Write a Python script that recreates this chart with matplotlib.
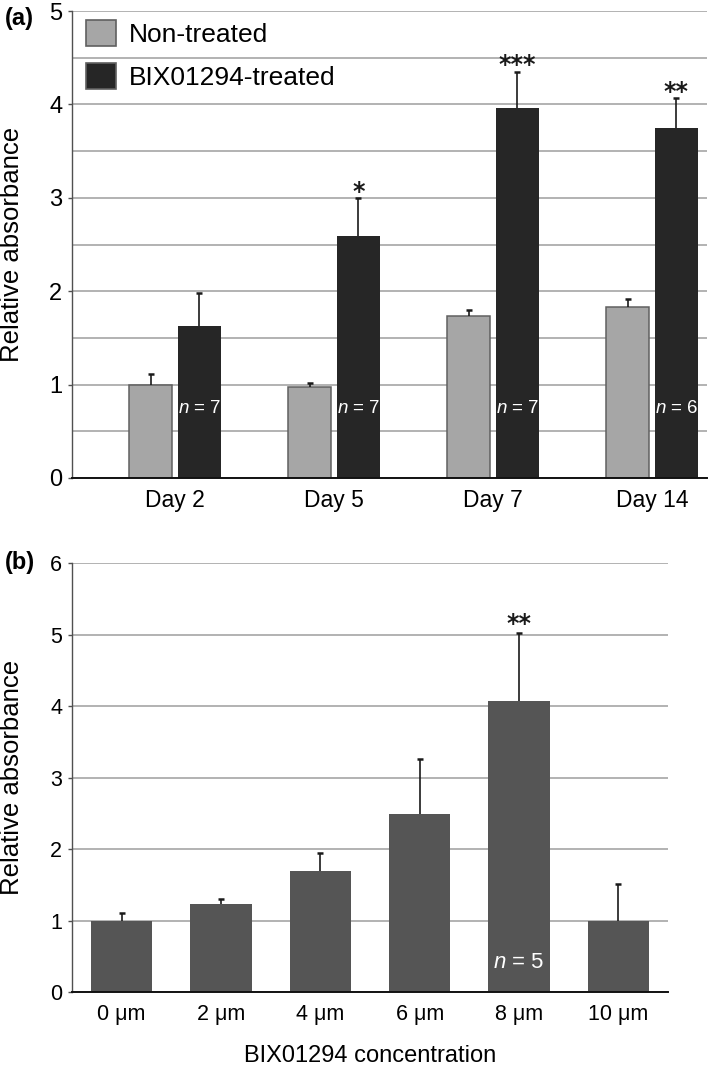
import numpy as np
import matplotlib
matplotlib.use("Agg")
import matplotlib.pyplot as plt
from matplotlib.patches import Patch

# ---------------- data ----------------
days = ["Day 2", "Day 5", "Day 7", "Day 14"]
non_treated = [1.00, 0.97, 1.73, 1.83]
non_treated_err = [0.11, 0.05, 0.065, 0.09]
treated = [1.63, 2.59, 3.96, 3.75]
treated_err = [0.35, 0.41, 0.39, 0.32]
treated_sig = ["", "*", "***", "**"]
treated_n = ["7", "7", "7", "6"]

conc_labels = ["0 μm", "2 μm", "4 μm", "6 μm", "8 μm", "10 μm"]
conc_values = [1.00, 1.23, 1.70, 2.50, 4.07, 1.00]
conc_err = [0.11, 0.075, 0.25, 0.76, 0.95, 0.52]
conc_sig = ["", "", "", "", "**", ""]
conc_n = ["", "", "", "", "5", ""]

# ---------------- style ----------------
plt.rcParams["font.family"] = ["Liberation Sans", "DejaVu Sans"]
plt.rcParams["mathtext.fontset"] = "custom"
plt.rcParams["mathtext.rm"] = "Liberation Sans"
plt.rcParams["mathtext.it"] = "Liberation Sans:italic"

GRID = "#a6a6a6"
AXC = "#505050"

fig = plt.figure(figsize=(7.09, 10.68), dpi=100)
W, H = 709.0, 1068.0
axA = fig.add_axes([72 / W, 1 - 478 / H, 635 / W, 467 / H])
axB = fig.add_axes([72 / W, 1 - 992.3 / H, 596 / W, 429 / H])


def style_axes(ax, ymax, minor_step=None):
    ax.set_ylim(0, ymax)
    ax.set_yticks(np.arange(0, ymax + 0.01, 1))
    if minor_step:
        ax.set_yticks(np.arange(minor_step, ymax, 1.0), minor=True)
    ax.set_axisbelow(True)
    ax.yaxis.grid(True, which="both", color=GRID, linewidth=1.2)
    ax.tick_params(axis="y", which="minor", length=0)
    for s in ["top", "right"]:
        ax.spines[s].set_visible(False)
    ax.spines["left"].set_color(AXC)
    ax.spines["left"].set_linewidth(1.0)
    ax.spines["bottom"].set_color("#111111")
    ax.spines["bottom"].set_linewidth(1.4)
    ax.tick_params(axis="y", which="major", length=3, width=1.0, color=AXC, pad=4)
    ax.tick_params(axis="x", length=0)


def upper_errorbar(ax, xs, ys, errs):
    cont = ax.errorbar(xs, ys, yerr=[np.zeros(len(xs)), errs], fmt="none",
                       ecolor="#1a1a1a", elinewidth=1.2, capsize=2.2, capthick=1.8, zorder=3)
    caps = cont.lines[1]
    if len(caps) == 2:
        caps[0].set_visible(False)


# ---------------- panel (a) ----------------
x = np.arange(len(days))
w = 0.272
off = 0.153
axA.bar(x - off, non_treated, w, color="#a6a6a6", edgecolor="#606060", linewidth=1.1, zorder=2)
axA.bar(x + off, treated, w, color="#262626", linewidth=0, zorder=2)
upper_errorbar(axA, x - off, non_treated, non_treated_err)
upper_errorbar(axA, x + off, treated, treated_err)
for i, s in enumerate(treated_sig):
    if s:
        axA.annotate(s, (x[i] + off, treated[i] + treated_err[i]), xytext=(0, 4.5),
                     textcoords="offset points", ha="center", va="center",
                     fontsize=17, family="DejaVu Sans", fontweight="bold", color="#1a1a1a")
for i, nn in enumerate(treated_n):
    axA.text(x[i] + off, 0.74, "$n$ = " + nn, ha="center", va="center", color="white",
             fontsize=13.5, zorder=4)

style_axes(axA, 5, minor_step=0.5)
axA.set_xlim(-0.648, 3.346)
axA.set_xticks(x)
axA.set_xticklabels(days)
axA.tick_params(axis="x", labelsize=16.5, pad=8)
axA.tick_params(axis="y", labelsize=17)
axA.set_ylabel("Relative absorbance", fontsize=18.5)
axA.yaxis.set_label_coords(-0.0756, 0.5)

handles = [Patch(facecolor="#a6a6a6", edgecolor="#606060", linewidth=1.2, label="Non-treated"),
           Patch(facecolor="#262626", edgecolor="#606060", linewidth=1.2, label="BIX01294-treated")]
axA.legend(handles=handles, loc="upper left", bbox_to_anchor=(0.022, 0.981), frameon=False,
           fontsize=19, handlelength=1.14, handleheight=1.14, handletextpad=0.47,
           labelspacing=0.62, borderpad=0, borderaxespad=0)

# ---------------- panel (b) ----------------
xb = np.arange(len(conc_labels))
axB.bar(xb, conc_values, 0.62, color="#555555", linewidth=0, zorder=2)
upper_errorbar(axB, xb, conc_values, conc_err)
for i, s in enumerate(conc_sig):
    if s:
        axB.annotate(s, (xb[i], conc_values[i] + conc_err[i]), xytext=(0, 6.5),
                     textcoords="offset points", ha="center", va="center",
                     fontsize=17, family="DejaVu Sans", fontweight="bold", color="#1a1a1a")
for i, nn in enumerate(conc_n):
    if nn:
        axB.text(xb[i], 0.42, "$n$ = " + nn, ha="center", va="center", color="white",
                 fontsize=16, zorder=4)

style_axes(axB, 6)
axB.set_xlim(-0.5, 5.5)
axB.set_xticks(xb)
axB.set_xticklabels(conc_labels)
axB.tick_params(axis="x", labelsize=15.5, pad=8.5)
axB.tick_params(axis="y", labelsize=15.5)
axB.set_ylabel("Relative absorbance", fontsize=18.5)
axB.yaxis.set_label_coords(-0.0805, 0.5)
axB.set_xlabel("BIX01294 concentration", fontsize=17, labelpad=14)

fig.text(5 / W, 1 - 18 / H, "(a)", fontsize=17, fontweight="bold", ha="left", va="center")
fig.text(5 / W, 1 - 563 / H, "(b)", fontsize=17, fontweight="bold", ha="left", va="center")

fig.savefig("out.png", dpi=100, facecolor="white")
